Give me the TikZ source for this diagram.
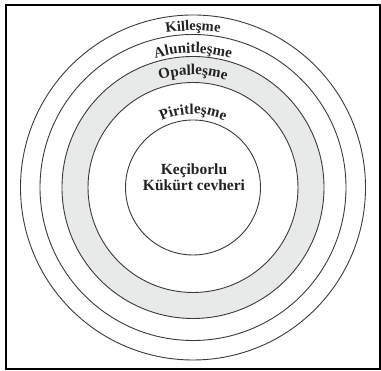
\documentclass[tikz,border=0pt]{standalone}
\usepackage{fontspec}
\setmainfont{Liberation Serif}
\usetikzlibrary{decorations.text}
\definecolor{ringgray}{HTML}{E8E9E9}
\definecolor{linecol}{HTML}{3A3A3A}
\definecolor{txtcol}{HTML}{222222}
\begin{document}
\begin{tikzpicture}[x=1pt,y=1pt,
  ring/.style={draw=linecol, line width=0.9pt},
  curvetext/.style={decorate, decoration={text along path, text align=center, text color=txtcol, text={#1}}},
  centertext/.style={font=\bfseries\fontsize{15.5}{16.7}\selectfont, text=txtcol, anchor=base, inner sep=0pt}]
\useasboundingbox (0,0) rectangle (381,371);
\draw[line width=2pt] (6,1.5) rectangle (379.5,366);
\coordinate (O) at (193,183.5);
\draw[ring] (O) circle[radius=172.5];
\draw[ring] (O) circle[radius=153];
\draw[ring, fill=ringgray] (O) circle[radius=131];
\draw[ring, fill=white] (O) circle[radius=105];
\draw[ring] (O) circle[radius=67.5];
\path[curvetext={|\bfseries\fontsize{14.5}{14.5}\selectfont|Killeşme}] ([shift={(150:156.8)}]O) arc[start angle=150, end angle=30, radius=156.8];
\path[curvetext={|\bfseries\fontsize{15}{15}\selectfont|Alunitleşme}] ([shift={(150:134.5)}]O) arc[start angle=150, end angle=30, radius=134.5];
\path[curvetext={|\bfseries\fontsize{15}{15}\selectfont|Opalleşme}] ([shift={(150:112.5)}]O) arc[start angle=150, end angle=30, radius=112.5];
\path[curvetext={|\bfseries\fontsize{15}{15}\selectfont|Piritleşme}] ([shift={(160:73.5)}]O) arc[start angle=160, end angle=20, radius=73.5];
\node[centertext] (c1) at (194,196.7) {Keçiborlu};
\node[centertext] (c2) at (194,180) {Kükürt cevheri};
\end{tikzpicture}
\end{document}
